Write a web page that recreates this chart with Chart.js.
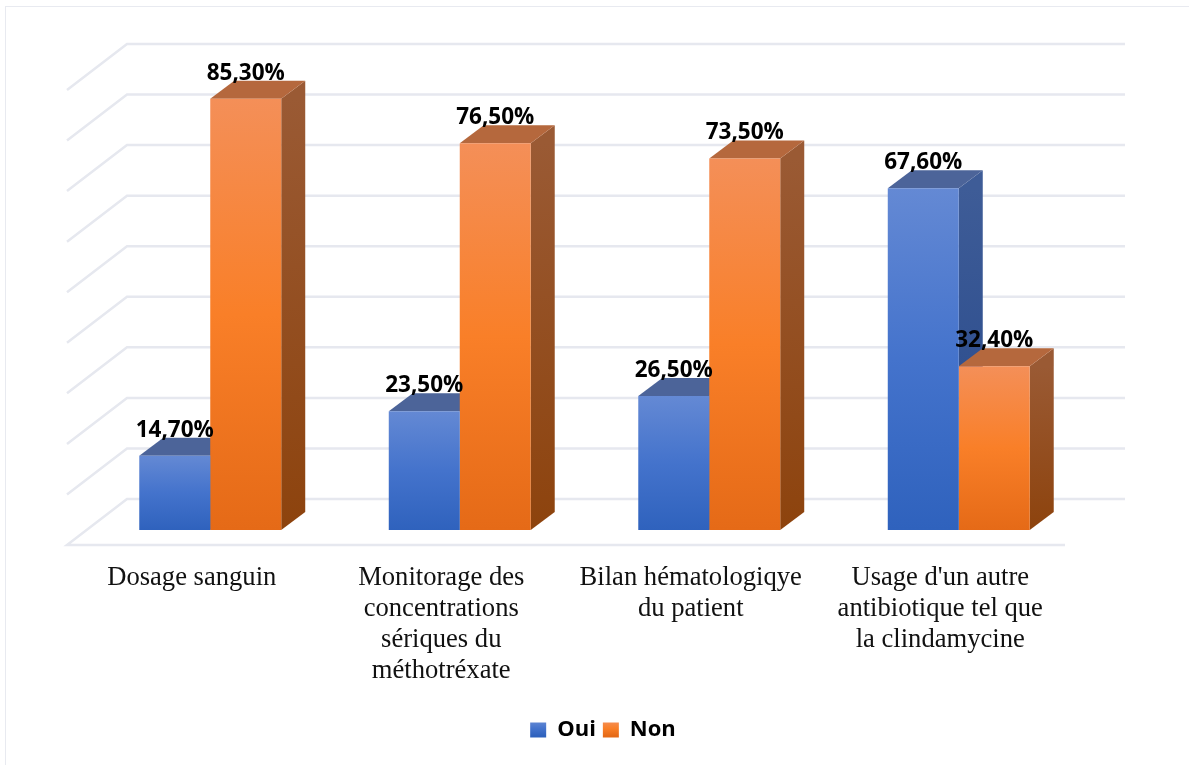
<!DOCTYPE html>
<html><head><meta charset="utf-8">
<style>
html,body{margin:0;padding:0;background:#fff;overflow:hidden}
#wrap{position:relative;width:1189px;height:765px}
#frame{position:absolute;left:5px;top:6px;right:0;bottom:0;border-top:1.5px solid #e8eaf0;border-left:1.5px solid #e8eaf0;box-sizing:border-box}
canvas{position:absolute;left:0;top:0}
</style>
<script src="https://cdn.jsdelivr.net/npm/chart.js@4"></script>
</head><body><div id="wrap"><div id="frame"></div><canvas id="c" width="1189" height="765"></canvas></div>
<script>
const categories = [
  "Dosage sanguin",
  ["Monitorage des","concentrations","sériques du","méthotréxate"],
  ["Bilan hématologiqye","du patient"],
  ["Usage d'un autre","antibiotique tel que","la clindamycine"]
];
const oui = [14.7, 23.5, 26.5, 67.6];
const non = [85.3, 76.5, 73.5, 32.4];
const seriesNames = ["Oui","Non"];
const axisMin = 0, axisMax = 90, axisStep = 10;

const WALL = {dx:60, dy:-46};    // floor depth of the back wall
const BAR_SHIFT = {dx:18.5, dy:-15}; // bars stand in the middle of the floor
const BAR_DEPTH = {dx:24, dy:-18};
const GRID = '#e6e8ef';

const palette = {
  Oui:{front:['#6489d4','#4473cc','#2f62bd'], side:['#3e5c97','#25478a'], top:'#4c6499'},
  Non:{front:['#f48f58','#f97f28','#e56a17'], side:['#9a5a34','#8d430d'], top:'#b5683d'}
};
function vGrad(ctx, y0, y1, stops){
  const g = ctx.createLinearGradient(0,y0,0,y1);
  stops.forEach((c,i)=>g.addColorStop(i/(stops.length-1),c));
  return g;
}
function frontFill(name){
  return (c)=>{
    const s = c.chart.scales.y;
    if(!s || c.raw===undefined) return palette[name].front[1];
    return vGrad(c.chart.ctx, s.getPixelForValue(c.raw), s.getPixelForValue(0), palette[name].front);
  };
}
function poly(ctx,pts,fill){
  ctx.fillStyle=fill;ctx.beginPath();
  pts.forEach((p,i)=>i?ctx.lineTo(p[0],p[1]):ctx.moveTo(p[0],p[1]));
  ctx.closePath();ctx.fill();
}
const box3d = {
  id:'box3d',
  beforeDatasetsDraw(chart){
    const {ctx,scales:{x,y}} = chart;
    ctx.save();
    ctx.strokeStyle=GRID;ctx.lineWidth=2.5;ctx.lineCap='butt';ctx.lineJoin='miter';
    y.ticks.forEach(t=>{
      const py=y.getPixelForValue(t.value);
      ctx.beginPath();
      if(t.value===axisMin){
        ctx.moveTo(x.right,py);ctx.lineTo(x.left,py);ctx.lineTo(x.left+WALL.dx,py+WALL.dy);
        ctx.lineTo(x.right+WALL.dx,py+WALL.dy);
      }else{
        ctx.moveTo(x.left,py);ctx.lineTo(x.left+WALL.dx,py+WALL.dy);ctx.lineTo(x.right+WALL.dx,py+WALL.dy);
      }
      ctx.stroke();
    });
    ctx.restore();
    // side and top faces: first series first, so the second series covers it
    ctx.save();
    ctx.translate(BAR_SHIFT.dx,BAR_SHIFT.dy);
    chart.data.datasets.forEach((d,i)=>{
      const p=palette[d.label];
      chart.getDatasetMeta(i).data.forEach(b=>{
        const L=b.x-b.width/2,R=b.x+b.width/2,T=b.y,B=b.base,dx=BAR_DEPTH.dx,dy=BAR_DEPTH.dy;
        poly(ctx,[[R,T],[R+dx,T+dy],[R+dx,B+dy],[R,B]],vGrad(ctx,T,B,p.side));
        poly(ctx,[[L,T],[L+dx,T+dy],[R+dx,T+dy],[R,T]],p.top);
      });
    });
    ctx.restore();
  },
  beforeDatasetDraw(chart){
    chart.ctx.save();
    chart.ctx.translate(BAR_SHIFT.dx,BAR_SHIFT.dy);
  },
  afterDatasetDraw(chart){ chart.ctx.restore(); },
  afterDatasetsDraw(chart){
    const {ctx} = chart;
    ctx.save();
    ctx.font='700 22.5px "Open Sans"';ctx.fillStyle='#000';ctx.textAlign='center';ctx.textBaseline='alphabetic';
    chart.data.datasets.forEach((d,i)=>{
      chart.getDatasetMeta(i).data.forEach((b,j)=>{
        const txt=d.data[j].toFixed(2).replace('.',',')+'%';
        ctx.fillText(txt,b.x+BAR_SHIFT.dx,b.y+BAR_SHIFT.dy-19);
      });
    });
    ctx.restore();
  }
};
const cv=document.getElementById('c');
new Chart(cv,{
  type:'bar',
  data:{labels:categories,datasets:[
    {label:seriesNames[0],data:oui,backgroundColor:frontFill('Oui'),borderWidth:0},
    {label:seriesNames[1],data:non,backgroundColor:frontFill('Non'),borderWidth:0}
  ]},
  options:{
    responsive:false,animation:false,
    layout:{padding:{left:17,right:0,top:90,bottom:14}},
    datasets:{bar:{categoryPercentage:0.569,barPercentage:1}},
    plugins:{
      tooltip:{enabled:false},
      legend:{position:'bottom',
        labels:{
          boxWidth:16,boxHeight:15,padding:7,color:'#000',
          font:{family:'"Open Sans"',weight:'700',size:22},
          generateLabels(chart){
            return seriesNames.map((n,i)=>({text:n,datasetIndex:i,lineWidth:0,
              fillStyle:vGrad(chart.ctx,721,736,palette[n].front),strokeStyle:'transparent'}));
          }
        }}
    },
    scales:{
      x:{grid:{display:false},border:{display:false},
        ticks:{color:'#111',font:{family:'"Liberation Serif"',size:26.6,lineHeight:1.16},padding:10,maxRotation:0,autoSkip:false},
        afterFit(s){s.height=167;}},
      y:{min:axisMin,max:axisMax,ticks:{stepSize:axisStep,display:false},grid:{display:false},border:{display:false},
        afterFit(s){s.width=50;}},
      y2:{position:'right',ticks:{display:false},grid:{display:false},border:{display:false},
        afterFit(s){s.width=124;}}
    }
  },
  plugins:[box3d]
});
</script></body></html>
